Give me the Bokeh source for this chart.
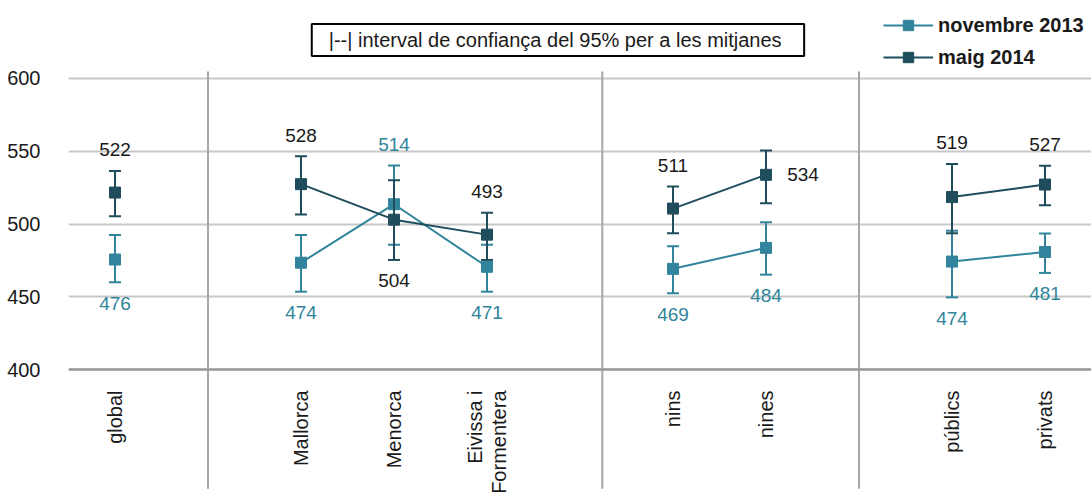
import math
from bokeh.plotting import figure
from bokeh.models import Range1d, Legend, LegendItem, Label, Span, ColumnDataSource
from bokeh.embed import file_html
from bokeh.resources import INLINE
from bokeh.core.properties import value

# ---------------- data ----------------
categories = ["global", "Mallorca", "Menorca", "Eivissa i\nFormentera",
              "nins", "nines", "públics", "privats"]
groups = [0, 1, 1, 1, 2, 2, 3, 3]

nov_mean = [475.6, 473.4, 513.6, 470.6, 469.2, 483.6, 474.2, 480.8]
nov_lo = [459.9, 453.5, 485.8, 453.5, 452.4, 465.2, 449.6, 466.4]
nov_hi = [492.5, 492.5, 540.2, 485.8, 484.7, 501.2, 495.4, 493.4]
nov_text = ["476", "474", "514", "471", "469", "484", "474", "481"]
nov_pos = ["below", "below", "above", "below", "below", "below", "below", "below"]

maig_mean = [521.6, 527.4, 503.0, 492.7, 510.6, 533.8, 518.5, 527.1]
maig_lo = [505.3, 506.5, 475.3, 475.3, 493.6, 514.2, 493.6, 512.9]
maig_hi = [536.5, 546.6, 530.0, 507.8, 525.7, 550.5, 541.3, 540.0]
maig_text = ["522", "528", "504", "493", "511", "534", "519", "527"]
maig_pos = ["above", "above", "below", "above", "above", "right", "above", "above"]

series_names = ["novembre 2013", "maig 2014"]
y_ticks = [400, 450, 500, 550, 600]
note_text = "|--|  interval de confiança del 95% per a les mitjanes"

# ---------------- style ----------------
NOV = "#31849b"
MAIG = "#1f4d5c"
TXT = "#1a1a1a"
FONT = value("Liberation Sans")
n_slots = 11
separators = [1.5, 5.74, 8.5]

x = [i + g + 0.5 for i, g in enumerate(groups)]

p = figure(width=1091, height=493, output_backend="svg", toolbar_location=None,
           x_range=Range1d(0, n_slots), y_range=Range1d(314.8, 653.6),
           x_axis_location=None, y_axis_location="left",
           min_border_left=68, min_border_right=0, min_border_top=0, min_border_bottom=0)
p.outline_line_color = None
p.background_fill_color = "white"
p.xgrid.visible = False
p.yaxis.ticker = y_ticks
p.ygrid.grid_line_color = "#c8c8c8"
p.ygrid.grid_line_width = 2
p.yaxis.axis_line_color = None
p.yaxis.major_tick_line_color = None
p.yaxis.minor_tick_line_color = None
p.yaxis.major_label_standoff = 22
p.yaxis.major_label_text_font = "Liberation Sans"
p.yaxis.major_label_text_font_size = "20px"
p.yaxis.major_label_text_color = TXT

p.add_layout(Span(location=y_ticks[0], dimension="width", line_color="#9a9a9a", line_width=2.5))

# group separators
p.segment(x0=separators, x1=separators, y0=[604.8] * 3, y1=[318.0] * 3,
          line_color="#a6a6a6", line_width=2)


def group_lines(vals):
    xs, ys = [], []
    for g in sorted(set(groups)):
        idx = [i for i, gg in enumerate(groups) if gg == g]
        xs.append([x[i] for i in idx])
        ys.append([vals[i] for i in idx])
    return xs, ys


legend_items = []
for name, mean, lo, hi, texts, pos, col, tcol in [
        (series_names[0], nov_mean, nov_lo, nov_hi, nov_text, nov_pos, NOV, NOV),
        (series_names[1], maig_mean, maig_lo, maig_hi, maig_text, maig_pos, MAIG, TXT)]:
    xs, ys = group_lines(mean)
    lr = p.multi_line(xs, ys, line_color=col, line_width=2)
    p.segment(x0=x, x1=x, y0=lo, y1=hi, line_color=col, line_width=2)
    p.scatter(x + x, lo + hi, marker="dash", size=12, line_color=col, line_width=2)
    sr = p.scatter(x, mean, marker="square", size=11, fill_color=col, line_color=col)
    legend_items.append(LegendItem(label=name, renderers=[lr, sr]))

    ly, lxo, lyo = [], [], []
    for m, l, h, ps in zip(mean, lo, hi, pos):
        if ps == "above":
            ly.append(h); lxo.append(0); lyo.append(-21)
        elif ps == "below":
            ly.append(l); lxo.append(0); lyo.append(21)
        else:
            ly.append(m); lxo.append(37); lyo.append(0)
    src = ColumnDataSource(dict(x=x, y=ly, t=texts, xo=lxo, yo=lyo))
    p.text(x="x", y="y", text="t", x_offset="xo", y_offset="yo", source=src,
           text_font=FONT, text_font_size="19px", text_color=tcol,
           text_align="center", text_baseline="middle")

# category labels (rotated)
p.text(x=x, y=[385.6] * len(x), text=categories, angle=math.pi / 2,
       text_font=FONT, text_font_size="20px", text_color=TXT,
       text_align="right", text_baseline="middle", text_line_height=1.1)

legend = Legend(items=legend_items, location=(815, 423), margin=0, padding=2,
                glyph_width=50, glyph_height=26, label_height=26, spacing=6,
                label_standoff=5, label_text_font="Liberation Sans",
                label_text_font_size="20px", label_text_font_style="bold",
                label_text_color=TXT, background_fill_alpha=0, border_line_color=None)
p.add_layout(legend)

note = Label(x=5.263, y=626.4, text=note_text, text_font="Liberation Sans",
             text_font_size="20px", text_color=TXT, text_align="center",
             text_baseline="middle", border_line_color="black", border_line_width=2,
             background_fill_color="white", padding=dict(x=17, y=5))
p.add_layout(note)

open("out.html", "w").write(file_html(p, INLINE))
